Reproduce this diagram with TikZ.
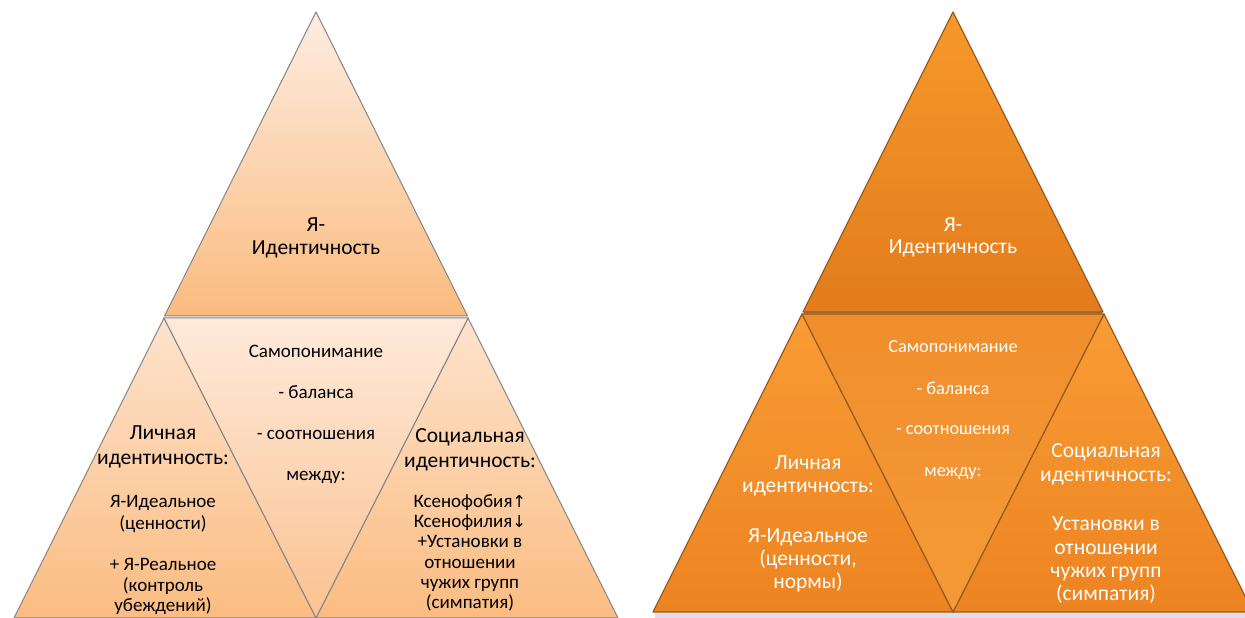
\documentclass[tikz,border=0pt]{standalone}
\usepackage{fontspec}
\setmainfont{Carlito}
\newfontfamily\arrowfont{DejaVu Sans}
\definecolor{lgrey}{HTML}{858585}
\definecolor{dline}{HTML}{9A5A22}
\definecolor{ltopA}{HTML}{FDEDE1}
\definecolor{ltopB}{HTML}{FBBB7F}
\definecolor{lsideA}{HTML}{FDE3CD}
\definecolor{lsideB}{HTML}{FBBC82}
\definecolor{lmidA}{HTML}{FEEADB}
\definecolor{lmidB}{HTML}{FBC291}
\definecolor{rtopA}{HTML}{F8982A}
\definecolor{rtopB}{HTML}{E27C1C}
\definecolor{rsideA}{HTML}{F99C34}
\definecolor{rsideB}{HTML}{EC8421}
\definecolor{rmidA}{HTML}{F08E2C}
\definecolor{rmidB}{HTML}{F59A38}
\tikzset{
  big/.style={font={\fontsize{21.5}{25}\selectfont}, anchor=mid, inner sep=0pt},
  mid/.style={font={\fontsize{19}{22}\selectfont}, anchor=mid, inner sep=0pt},
  sml/.style={font={\fontsize{18.3}{22}\selectfont}, anchor=mid, inner sep=0pt},
  ledge/.style={draw=lgrey, line width=1pt, line join=round},
  redge/.style={draw=dline, line width=1.2pt, line join=round},
}
\begin{document}
\begin{tikzpicture}[x=1pt,y=1pt]
\useasboundingbox (0,0) rectangle (1245,618);
\clip (0,0) rectangle (1245,618);
% ---------------- left pyramid ----------------
\shade[top color=ltopA, bottom color=ltopB, ledge] (316,606) -- (164.5,302) -- (467.5,302) -- cycle;
\shade[top color=lsideA, bottom color=lsideB, ledge] (164,300) -- (14,0) -- (316,0) -- cycle;
\shade[top color=lsideA, bottom color=lsideB, ledge] (468,300) -- (618,0) -- (316,0) -- cycle;
\shade[top color=lmidA, bottom color=lmidB, ledge] (164,300) -- (468,300) -- (316,0) -- cycle;
% ---------------- right pyramid ----------------
\fill[black!12] (655,0) -- (1245,0) -- (1245,6) -- (655,6) -- cycle;
\shade[top color=rtopA, bottom color=rtopB, redge] (953,606) -- (803,306) -- (1103,306) -- cycle;
\draw[dline!80!black, line width=2.2pt, opacity=0.6] (804,305) -- (1102,305);
\shade[top color=rsideA, bottom color=rsideB, redge] (802,304) -- (653,6) -- (953,6) -- cycle;
\shade[top color=rsideA, bottom color=rsideB, redge] (1104,304) -- (1253,6) -- (953,6) -- cycle;
\shade[top color=rmidA, bottom color=rmidB, redge] (802,304) -- (1104,304) -- (953,6) -- cycle;
% ---------------- left texts ----------------
\node[big] (la1) at (316,389) {Я-};
\node[big] (la2) at (316,366) {Идентичность};
\node[mid] (lm1) at (316,263) {Самопонимание};
\node[mid] (lm2) at (316,222) {- баланса};
\node[mid] (lm3) at (316,181) {- соотношения};
\node[mid] (lm4) at (316,140) {между:};
\node[big] (ll1) at (163,181) {Личная};
\node[big] (ll2) at (163,156) {идентичность:};
\node[mid] (ll3) at (163,113) {Я-Идеальное};
\node[mid] (ll4) at (163,91) {(ценности)};
\node[mid] (ll5) at (163,50) {+ Я-Реальное};
\node[mid] (ll6) at (163,29) {(контроль};
\node[mid] (ll7) at (163,9) {убеждений)};
\node[big] (lr1) at (470,178) {Социальная};
\node[big] (lr2) at (470,153) {идентичность:};
\node[mid] (lr3) at (470,113) {Ксенофобия{\arrowfont\fontsize{16.5}{18}\selectfont ↑}};
\node[mid] (lr4) at (470,93) {Ксенофилия{\arrowfont\fontsize{16.5}{18}\selectfont ↓}};
\node[mid] (lr5) at (470,73) {+Установки в};
\node[mid] (lr6) at (470,52) {отношении};
\node[mid] (lr7) at (470,32) {чужих групп};
\node[mid] (lr8) at (470,12) {(симпатия)};
% ---------------- right texts ----------------
\begin{scope}[every node/.append style={text=white}]
\node[big] (ra1) at (953,389) {Я-};
\node[big] (ra2) at (953,367) {Идентичность};
\node[sml] (rm1) at (953,268) {Самопонимание};
\node[sml] (rm2) at (953,226) {- баланса};
\node[sml] (rm3) at (953,186) {- соотношения};
\node[sml] (rm4) at (953,144) {между:};
\node[big] (rl1) at (808,151) {Личная};
\node[big] (rl2) at (808,128) {идентичность:};
\node[big] (rl3) at (808,78) {Я-Идеальное};
\node[big] (rl4) at (808,55) {(ценности,};
\node[big] (rl5) at (808,32) {нормы)};
\node[big] (rr1) at (1106,163) {Социальная};
\node[big] (rr2) at (1106,139) {идентичность:};
\node[big] (rr3) at (1106,90) {Установки в};
\node[big] (rr4) at (1106,66) {отношении};
\node[big] (rr5) at (1106,43) {чужих групп};
\node[big] (rr6) at (1106,20) {(симпатия)};
\end{scope}
\end{tikzpicture}
\end{document}
